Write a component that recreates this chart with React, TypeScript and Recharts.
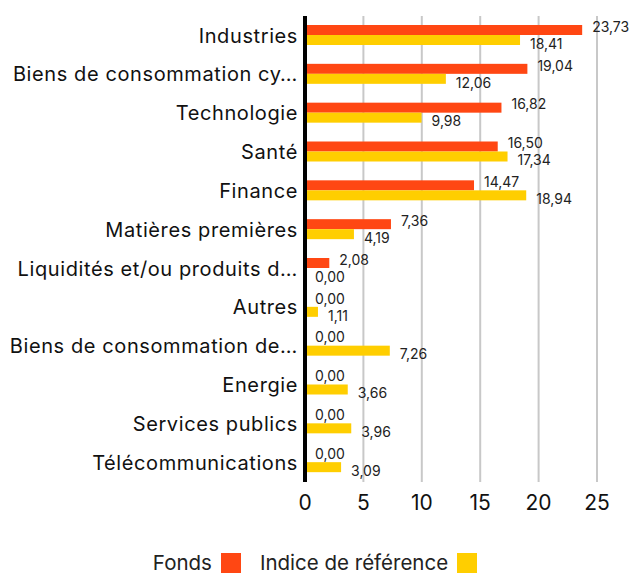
import { BarChart, Bar, XAxis, YAxis, CartesianGrid, Legend } from "recharts";

const categories = [
  "Industries",
  "Biens de consommation cy…",
  "Technologie",
  "Santé",
  "Finance",
  "Matières premières",
  "Liquidités et/ou produits d…",
  "Autres",
  "Biens de consommation de…",
  "Energie",
  "Services publics",
  "Télécommunications",
];
const fonds = [23.73, 19.04, 16.82, 16.5, 14.47, 7.36, 2.08, 0, 0, 0, 0, 0];
const indice = [18.41, 12.06, 9.98, 17.34, 18.94, 4.19, 0, 1.11, 7.26, 3.66, 3.96, 3.09];
const xTicks = [0, 5, 10, 15, 20, 25];

const seriesNames = { fonds: "Fonds", indice: "Indice de référence" };
const ORANGE = "#ff4713";
const YELLOW = "#ffce00";
const FONT = "Inter, 'Liberation Sans', sans-serif";

const data = categories.map((name, i) => ({ name, fonds: fonds[i], indice: indice[i] }));

const fmt = (v: number) => v.toFixed(2).replace(".", ",");

// bar + its value label, so zero-width bars still get "0,00"
function makeShape(key: "fonds" | "indice", color: string, dy: number) {
  return (props: any) => {
    const x = Number(props.x);
    const y = Number(props.y);
    const w = Math.max(0, Number(props.width) || 0);
    const h = Number(props.height);
    const v = Number(props.payload?.[key] ?? 0);
    return (
      <g>
        {w > 0 && <rect x={x} y={y} width={w} height={h} fill={color} />}
        <text
          x={x + w + 10}
          y={y + h / 2 + dy}
          dominantBaseline="middle"
          fontSize={14}
          fontFamily={FONT}
          fill="#222"
        >
          {fmt(v)}
        </text>
      </g>
    );
  };
}

function LegendContent() {
  const items = [
    { label: seriesNames.fonds, color: ORANGE },
    { label: seriesNames.indice, color: YELLOW },
  ];
  return (
    <div style={{ display: "flex", justifyContent: "center", alignItems: "center", fontFamily: FONT, fontSize: 20.5, color: "#222", width: 630 }}>
      {items.map((it, i) => (
        <span key={it.label} style={{ display: "inline-flex", alignItems: "center", marginLeft: i ? 19 : 0 }}>
          {it.label}
          <span style={{ display: "inline-block", width: 20, height: 20, background: it.color, marginLeft: 9 }} />
        </span>
      ))}
    </div>
  );
}

export default function App() {
  return (
    <div style={{ position: "absolute", left: 0, top: 0, width: 630, height: 577, background: "#fff" }}>
      <BarChart
        width={630}
        height={577}
        data={data}
        layout="vertical"
        margin={{ top: 16, right: 33, left: 0, bottom: 34 }}
        barGap={0}
        barSize={10}
      >
        <CartesianGrid horizontal={false} stroke="#c8c8c8" strokeWidth={2} />
        <XAxis
          type="number"
          domain={[0, 25]}
          ticks={xTicks}
          axisLine={false}
          tickLine={false}
          tickMargin={7}
          height={36}
          tick={{ fontSize: 21, fill: "#111", fontFamily: FONT }}
        />
        <YAxis
          type="category"
          dataKey="name"
          width={305}
          axisLine={{ stroke: "#000", strokeWidth: 4 }}
          tickLine={false}
          tickMargin={1}
          interval={0}
          tick={{ fontSize: 20, fill: "#111", fontFamily: FONT, letterSpacing: 0.6 }}
        />
        <Legend verticalAlign="bottom" content={<LegendContent />} wrapperStyle={{ bottom: 2, left: 0, width: 630 }} />
        <Bar
          dataKey="fonds"
          name={seriesNames.fonds}
          fill={ORANGE}
          isAnimationActive={false}
          shape={makeShape("fonds", ORANGE, -2)}
        />
        <Bar
          dataKey="indice"
          name={seriesNames.indice}
          fill={YELLOW}
          isAnimationActive={false}
          shape={makeShape("indice", YELLOW, 5)}
        />
      </BarChart>
    </div>
  );
}
